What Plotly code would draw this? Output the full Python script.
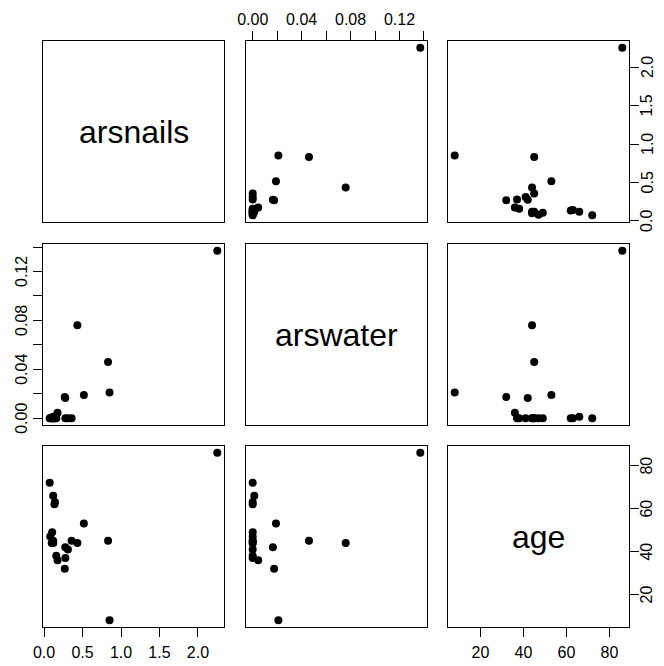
import plotly.graph_objects as go

# Data (arsenic study)
age = [44, 45, 44, 66, 37, 45, 47, 38, 41, 49, 72, 45, 53, 86, 8, 32, 44, 63, 42, 62, 36]
arsnails = [0.119, 0.118, 0.099, 0.118, 0.277, 0.358, 0.080, 0.158, 0.310, 0.105, 0.073,
            0.832, 0.517, 2.252, 0.851, 0.269, 0.433, 0.141, 0.275, 0.135, 0.175]
arswater = [0.0, 0.0, 0.0, 0.0013, 0.0, 0.0, 0.0, 0.0, 0.0, 0.0, 0.0,
            0.046, 0.019, 0.137, 0.021, 0.0175, 0.076, 0.0, 0.0165, 0.0, 0.0045]

var_names = ["arsnails", "arswater", "age"]
arsnails_ticks = [0, 0.5, 1.0, 1.5, 2.0]
arsnails_ticktext = ["0.0", "0.5", "1.0", "1.5", "2.0"]
arswater_ticks = [0, 0.02, 0.04, 0.06, 0.08, 0.10, 0.12, 0.14]
arswater_ticktext = ["0.00", "", "0.04", "", "0.08", "", "0.12", ""]
age_ticks = [20, 40, 60, 80]
age_ticktext = ["20", "40", "60", "80"]

data = [arsnails, arswater, age]
ticks = [(arsnails_ticks, arsnails_ticktext), (arswater_ticks, arswater_ticktext), (age_ticks, age_ticktext)]


def rng(v):
    lo, hi = min(v), max(v)
    pad = (hi - lo) * 0.04
    return [lo - pad, hi + pad]


ranges = [rng(v) for v in data]

# page is 664x666; default body margin of 8px shifts the figure div
W, H = 664, 666
OFF = 8
FW, FH = W - OFF, H - OFF
col_px = [(43, 224), (246, 427), (448, 629)]
row_px = [(41, 222), (244, 425), (446, 627)]


def fx(p):
    return (p - OFF) / FW


def fy(p):
    return (FH - (p - OFF)) / FH


FONT = "Liberation Sans, Arial, Helvetica, sans-serif"
TICKFONT = dict(family=FONT, size=16, color="black")

fig = go.Figure()
layout = dict(
    width=FW, height=FH, autosize=False,
    margin=dict(l=0, r=0, t=0, b=0, pad=0, autoexpand=False),
    paper_bgcolor="white", plot_bgcolor="white",
    showlegend=False,
)
annotations = []

x_axis_side = {(2, 0): "bottom", (2, 2): "bottom", (0, 1): "top"}
y_axis_side = {(0, 2): "right", (1, 0): "left", (2, 2): "right"}
y_label_center_px = {"left": 21.5, "right": 647}

for i in range(3):
    for j in range(3):
        n = i * 3 + j + 1
        xa = "xaxis" if n == 1 else f"xaxis{n}"
        ya = "yaxis" if n == 1 else f"yaxis{n}"
        xref = "x" if n == 1 else f"x{n}"
        yref = "y" if n == 1 else f"y{n}"
        xd = [fx(col_px[j][0]), fx(col_px[j][1])]
        yd = [fy(row_px[i][1]), fy(row_px[i][0])]
        base = dict(showline=True, mirror=True, linecolor="black", linewidth=1,
                    showgrid=False, zeroline=False, fixedrange=True, automargin=False)
        xcfg = dict(base, domain=xd, range=ranges[j], anchor=yref)
        ycfg = dict(base, domain=yd, range=ranges[i], anchor=xref)
        if (i, j) in x_axis_side:
            side = x_axis_side[(i, j)]
            tv, tt = ticks[j]
            xcfg.update(side=side, ticks="outside", ticklen=9, tickwidth=1,
                        tickcolor="black", tickvals=tv, ticktext=tt, showticklabels=True,
                        tickfont=TICKFONT, ticklabelstandoff=(2 if side == "bottom" else 0))
        else:
            xcfg.update(showticklabels=False, ticks="")
        if (i, j) in y_axis_side:
            side = y_axis_side[(i, j)]
            tv, tt = ticks[i]
            ycfg.update(side=side, ticks="outside", ticklen=9, tickwidth=1,
                        tickcolor="black", tickvals=tv, showticklabels=False)
            for v, t in zip(tv, tt):
                if t:
                    annotations.append(dict(
                        text=t, xref="paper", yref=yref,
                        x=fx(y_label_center_px[side]), y=v,
                        xanchor="center", yanchor="middle", textangle=-90,
                        showarrow=False, font=TICKFONT))
        else:
            ycfg.update(showticklabels=False, ticks="")
        layout[xa] = xcfg
        layout[ya] = ycfg

        if i == j:
            fig.add_trace(go.Scatter(x=[None], y=[None], mode="markers",
                                     xaxis=xref, yaxis=yref, hoverinfo="skip"))
            annotations.append(dict(
                text=var_names[i], xref="paper", yref="paper",
                x=(xd[0] + xd[1]) / 2, y=(yd[0] + yd[1]) / 2,
                xanchor="center", yanchor="middle", showarrow=False,
                font=dict(family=FONT, size=32, color="black")))
        else:
            fig.add_trace(go.Scatter(
                x=data[j], y=data[i], mode="markers",
                marker=dict(color="black", size=8, line=dict(width=0)),
                xaxis=xref, yaxis=yref, hoverinfo="skip"))

layout["annotations"] = annotations
fig.update_layout(**layout)
fig.write_html("out.html")
